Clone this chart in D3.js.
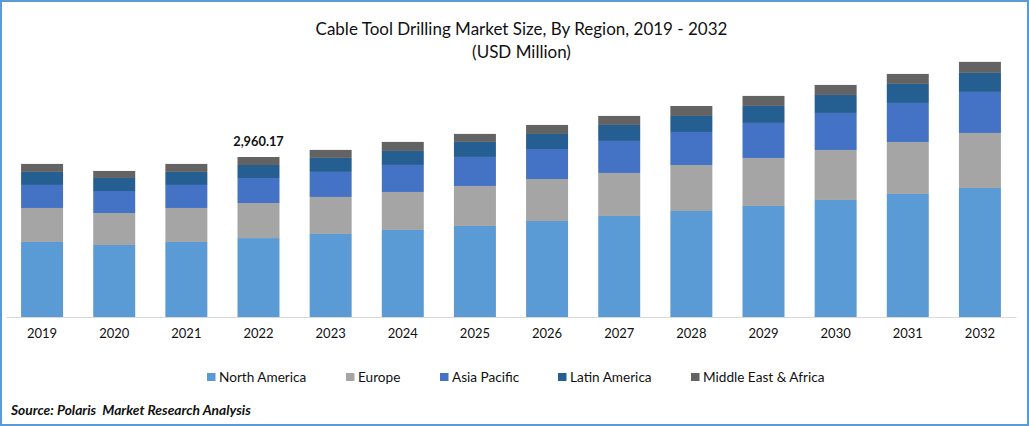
<!DOCTYPE html>
<html>
<head>
<meta charset="utf-8">
<script src="https://cdnjs.cloudflare.com/ajax/libs/d3/7.8.5/d3.min.js"></script>
<style>
  html, body { margin: 0; padding: 0; background: #fff; }
  svg { display: block; font-family: Lato, "Open Sans", sans-serif; }
</style>
</head>
<body>
<div id="chart"></div>
<script>
const years = ['2019', '2020', '2021', '2022', '2023', '2024', '2025', '2026', '2027', '2028', '2029', '2030', '2031', '2032'];
const regions = ['North America', 'Europe', 'Asia Pacific', 'Latin America', 'Middle East & Africa'];
const colors = ['#5b9bd5', '#a5a5a5', '#4472c4', '#255e91', '#636363'];

const northAmerica = [1388, 1332, 1388, 1460.17, 1536, 1610, 1684, 1776, 1869, 1961, 2054, 2165, 2276, 2387];
const europe = [629, 592, 629, 648, 685, 703, 740, 777, 796, 851, 888, 925, 962, 1018];
const asiaPacific = [426, 407, 426, 463, 463, 500, 537, 555, 592, 611, 648, 685, 722, 759];
const latinAmerica = [241, 241, 241, 241, 259, 259, 278, 278, 296, 296, 315, 333, 352, 352];
const middleEastAfrica = [148, 130, 148, 148, 148, 167, 148, 167, 167, 185, 185, 185, 185, 204];

const labelledYear = '2022';

const width = 1029;
const height = 426;
const baseline = 317;

const rows = years.map((year, i) => ({
  year,
  'North America': northAmerica[i],
  'Europe': europe[i],
  'Asia Pacific': asiaPacific[i],
  'Latin America': latinAmerica[i],
  'Middle East & Africa': middleEastAfrica[i]
}));

const svg = d3.select('#chart').append('svg')
  .attr('width', width)
  .attr('height', height);

svg.append('rect')
  .attr('x', 1)
  .attr('y', 1)
  .attr('width', width - 2)
  .attr('height', height - 2)
  .attr('fill', '#fff')
  .attr('stroke', '#5b9bd5')
  .attr('stroke-width', 2);

const x = d3.scaleBand()
  .domain(years)
  .range([6, 1016])
  .paddingInner(0.418)
  .paddingOuter(0.209);

const y = d3.scaleLinear()
  .domain([0, 5180])
  .range([baseline, baseline - 280]);

const color = d3.scaleOrdinal().domain(regions).range(colors);
const series = d3.stack().keys(regions)(rows);

svg.selectAll('.series')
  .data(series)
  .enter()
  .append('g')
  .attr('class', 'series')
  .attr('fill', (d) => color(d.key))
  .selectAll('rect')
  .data((d) => d)
  .enter()
  .append('rect')
  .attr('x', (d) => x(d.data.year))
  .attr('y', (d) => y(d[1]))
  .attr('width', x.bandwidth())
  .attr('height', (d) => y(d[0]) - y(d[1]));

const axis = svg.append('g')
  .attr('transform', `translate(0,${baseline})`)
  .call(d3.axisBottom(x).tickSize(0).tickPadding(12));
axis.select('.domain').attr('stroke', '#d9d9d9').attr('stroke-width', 1);
axis.selectAll('text')
  .attr('fill', '#111')
  .style('font-family', 'Lato, sans-serif')
  .style('font-size', '13px');

// value label on top of one bar
const topSeries = series[series.length - 1];
const labelled = topSeries.find((d) => d.data.year === labelledYear);
svg.append('text')
  .attr('x', x(labelledYear) + x.bandwidth() / 2)
  .attr('y', y(labelled[1]) - 11)
  .attr('text-anchor', 'middle')
  .attr('font-size', 12.8)
  .attr('font-weight', 700)
  .attr('fill', '#111')
  .text(d3.format(',.2f')(labelled[1]));

svg.append('text')
  .attr('x', 521.5)
  .attr('y', 34.5)
  .attr('text-anchor', 'middle')
  .attr('font-size', 17)
  .attr('fill', '#111')
  .text('Cable Tool Drilling Market Size, By Region, 2019 - 2032');

svg.append('text')
  .attr('x', 521.5)
  .attr('y', 57.5)
  .attr('text-anchor', 'middle')
  .attr('font-size', 17)
  .attr('fill', '#111')
  .text('(USD Million)');

const legendX = [207, 346, 440, 558, 691];
const legend = svg.selectAll('.legend')
  .data(regions)
  .enter()
  .append('g')
  .attr('class', 'legend')
  .attr('transform', (d, i) => `translate(${legendX[i]},373)`);

legend.append('rect')
  .attr('width', 8.5)
  .attr('height', 8)
  .attr('fill', (d) => color(d));

legend.append('text')
  .attr('x', 12)
  .attr('y', 8.5)
  .attr('font-size', 13.6)
  .attr('fill', '#111')
  .text((d) => d);

svg.append('text')
  .attr('x', 11)
  .attr('y', 415)
  .attr('font-size', 13.8)
  .attr('font-weight', 700)
  .attr('font-style', 'italic')
  .attr('fill', '#111')
  .style('white-space', 'pre')
  .text('Source: Polaris  Market Research Analysis');
</script>
</body>
</html>
